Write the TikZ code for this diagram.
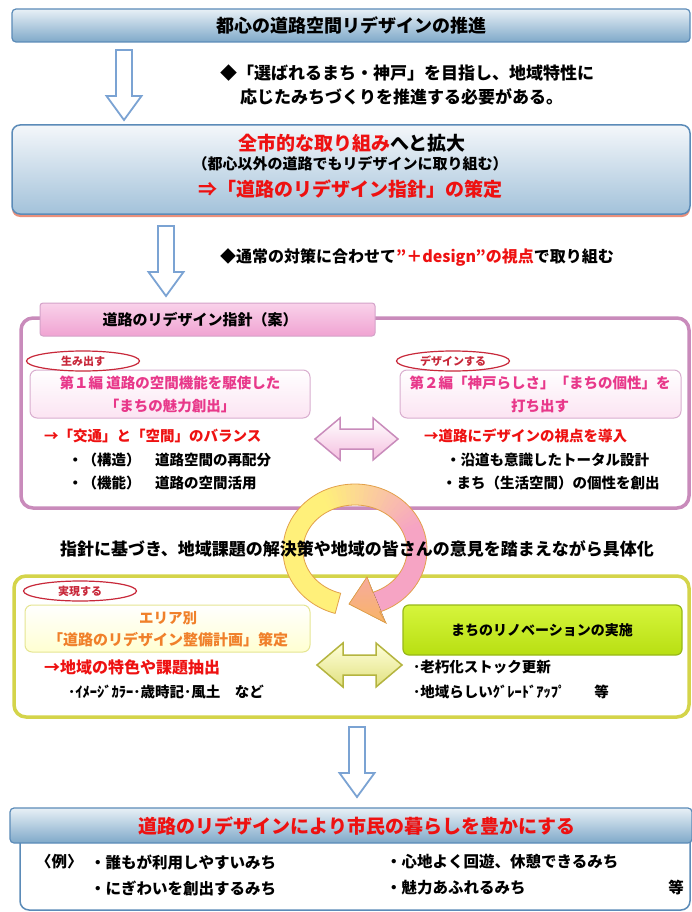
\documentclass[tikz,border=0pt]{standalone}
\usepackage{fontspec}
\setmainfont{Noto Sans CJK JP}
\usetikzlibrary{calc,shapes.geometric}
\definecolor{titleTop}{HTML}{E8F0F6}
\definecolor{titleBot}{HTML}{7FA9C9}
\definecolor{titleEdge}{HTML}{5B8BB8}
\definecolor{boxTop}{HTML}{F4F7FA}
\definecolor{boxBot}{HTML}{A3C2DA}
\definecolor{arrowBlue}{HTML}{7BA3D3}
\definecolor{pinkFrame}{HTML}{C98BBB}
\definecolor{pinkHeadTop}{HTML}{F9D2EA}
\definecolor{pinkHeadBot}{HTML}{F0A3D2}
\definecolor{ellRed}{HTML}{C8283A}
\definecolor{magTxt}{HTML}{E8388A}
\definecolor{redTxt}{HTML}{EE1111}
\definecolor{yelFrame}{HTML}{D4D44A}
\definecolor{orangeTxt}{HTML}{F0802A}
\definecolor{limeTop}{HTML}{D6F53C}
\definecolor{limeBot}{HTML}{B8DF12}
\definecolor{limeEdge}{HTML}{98B818}
\definecolor{ringY}{HTML}{FFF07A}
\definecolor{ringP}{HTML}{F6A4C4}
\definecolor{ringO}{HTML}{F8B466}
\definecolor{ringEdge}{HTML}{E2A04A}
\tikzset{
  fs/.style={font=\fontsize{#1}{#1}\selectfont\bfseries, inner sep=0pt},
  hollowdown/.pic={
    \draw[arrowBlue, line width=1.8pt, fill=white, line join=miter]
      (-8,0) -- (-8,46) -- (-17.5,46) -- (0,70) -- (17.5,46) -- (8,46) -- (8,0) -- cycle;
  },
  tagbox/.style={ellipse, draw=ellRed, line width=1.2pt, fill=white,
    minimum width=113pt, minimum height=20pt, inner sep=0pt, text=ellRed,
    font=\fontsize{11}{11}\selectfont\bfseries},
  bluebar/.style={top color=titleTop, bottom color=titleBot, draw=titleEdge,
    line width=1.2pt, rounded corners=4pt},
}
\begin{document}
\begin{tikzpicture}[x=1pt,y=-1pt]
\useasboundingbox (0,0) rectangle (692,912);
\fill[white] (0,0) rectangle (692,912);

% ---------- title bar ----------
\path[bluebar] (12,9) rectangle (690,42);
\node[fs=18] (title) at (351,25.5) {都心の道路空間リデザインの推進};

\pic at (124,50) {hollowdown};
\node[fs=17, anchor=west] (aim1) at (220,73) {◆「選ばれるまち・神戸」を目指し、地域特性に};
\node[fs=17, anchor=west] (aim2) at (240,97) {応じたみちづくりを推進する必要がある。};

% ---------- box 2 ----------
\fill[red!45!brown!60, rounded corners=8pt] (12,128) rectangle (690,217);
\path[top color=boxTop, bottom color=boxBot, draw=titleEdge, line width=1.5pt, rounded corners=8pt] (12,125) rectangle (690,214);
\node[fs=19] (exp1) at (352,143) {\textcolor{redTxt}{全市的な取り組み}へと拡大};
\node[fs=15] (exp2) at (350,164) {（都心以外の道路でもリデザインに取り組む）};
\node[fs=19, text=redTxt] (exp3) at (350,189) {⇒「道路のリデザイン指針」の策定};

\pic at (166,226) {hollowdown};
\node[fs=16, anchor=west] (design) at (220,257) {◆通常の対策に合わせて\textcolor{redTxt}{”＋design”の視点}で取り組む};

% ---------- pink section ----------
\draw[pinkFrame, line width=3.5pt, rounded corners=12pt] (21,318) rectangle (689,508);
\path[top color=pinkHeadTop, bottom color=pinkHeadBot, draw=pinkFrame!80, line width=1pt, rounded corners=3pt] (40,303) rectangle (375,336);
\node[fs=15] (guide) at (200,320) {道路のリデザイン指針（案）};

\path[top color=white, bottom color=pinkHeadTop!60, draw=pinkFrame!70, line width=1pt, rounded corners=7pt] (30,370) rectangle (310,418);
\node[tagbox] (tag1) at (83,361) {生み出す};
\node[fs=14.5, text=magTxt] (p1a) at (170,383) {第１編 道路の空間機能を駆使した};
\node[fs=14.5, text=magTxt] (p1b) at (170,406) {「まちの魅力創出」};
\node[fs=14.5, text=redTxt, anchor=west] (p1c) at (44,436) {→「交通」と「空間」のバランス};
\node[fs=14.5, anchor=west] (p1d) at (68,460) {・（構造）　道路空間の再配分};
\node[fs=14.5, anchor=west] (p1e) at (68,483) {・（機能）　道路の空間活用};

\path[top color=white, bottom color=pinkHeadTop!60, draw=pinkFrame!70, line width=1pt, rounded corners=7pt] (400,370) rectangle (681,418);
\node[tagbox] (tag2) at (453,361) {デザインする};
\node[fs=14.5, text=magTxt] (p2a) at (540,383) {第２編「神戸らしさ」「まちの個性」を};
\node[fs=14.5, text=magTxt] (p2b) at (540,406) {打ち出す};
\node[fs=14.5, text=redTxt, anchor=west] (p2c) at (424,436) {→道路にデザインの視点を導入};
\node[fs=14.5, anchor=west] (p2d) at (446,460) {・沿道も意識したトータル設計};
\node[fs=14.5, anchor=west] (p2e) at (442,483) {・まち（生活空間）の個性を創出};

% pink double arrow
\path[top color=white, bottom color=pinkHeadBot!70, draw=pinkFrame, line width=1.5pt, line join=miter]
  (315,439) -- (340,418) -- (340,429) -- (373,429) -- (373,418) -- (398,439)
  -- (373,460) -- (373,449) -- (340,449) -- (340,460) -- cycle;

% ---------- yellow section ----------
\draw[yelFrame, line width=3.5pt, rounded corners=12pt] (14,576) rectangle (689,717);
\path[top color=white, bottom color=yellow!18, draw=yelFrame!60, line width=1pt, rounded corners=7pt] (25,605) rectangle (310,652);
\node[tagbox] (tag3) at (80,591) {実現する};
\node[fs=14.5, text=orangeTxt] (p3a) at (168,618) {エリア別};
\node[fs=15, text=orangeTxt] (p3b) at (168,640) {「道路のリデザイン整備計画」策定};
\node[fs=16, text=redTxt, anchor=west] (p3c) at (44,667) {→地域の特色や課題抽出};
\node[fs=14.5, anchor=west] (p3d) at (68,692) {･ｲﾒｰｼﾞｶﾗｰ･歳時記･風土　など};

\path[top color=limeTop, bottom color=limeBot, draw=limeEdge, line width=1.2pt, rounded corners=6pt] (403,605) rectangle (682,655);
\node[fs=14] (renov) at (542,630) {まちのリノベーションの実施};
\node[fs=14.5, anchor=west] (p4a) at (413,667) {･老朽化ストック更新};
\node[fs=14.5, anchor=west] (p4b) at (413,692) {･地域らしいｸﾞﾚｰﾄﾞｱｯﾌﾟ　　等};

% yellow double arrow
\path[top color=yellow!15, bottom color=yelFrame!70, draw=yelFrame!85!black, line width=1.5pt, line join=miter]
  (317,665) -- (343,643) -- (343,655) -- (376,655) -- (376,643) -- (402,665)
  -- (376,687) -- (376,675) -- (343,675) -- (343,687) -- cycle;

% ---------- cycle ring ----------
\foreach \a in {106,110,...,426} {
  \pgfmathtruncatemacro\p{max(0,min(100,(335-\a)/95*100))}
  \fill[ringY!\p!ringP]
    ({355+72*cos(\a)},{550+66*sin(\a)}) -- ({355+72*cos(\a+4.6)},{550+66*sin(\a+4.6)})
    -- ({355+52*cos(\a+4.6)},{550+45*sin(\a+4.6)}) -- ({355+52*cos(\a)},{550+45*sin(\a)}) -- cycle;
}
\fill[top color=ringP!60!ringO, bottom color=ringO] (386,623) -- (349,604) -- (367,577) -- cycle;
\draw[ringEdge, line width=0.8pt, line join=miter]
  plot[domain=106:430, samples=90] ({355+72*cos(\x)},{550+66*sin(\x)})
  -- (386,623) -- (349,604) -- (367,577)
  -- plot[domain=430:106, samples=90] ({355+52*cos(\x)},{550+45*sin(\x)}) -- cycle;

\node[fs=17] (mid) at (357,549) {指針に基づき、地域課題の解決策や地域の皆さんの意見を踏まえながら具体化};

% ---------- bottom ----------
\pic at (357,727) {hollowdown};
\draw[titleEdge, line width=1.5pt, fill=white, rounded corners=9pt] (20,830) rectangle (690,910);
\path[bluebar] (10,808) rectangle (692,843);
\node[fs=19, text=redTxt] (goal) at (357,826) {道路のリデザインにより市民の暮らしを豊かにする};
\node[fs=15.5, anchor=west] (ex0) at (36,862) {〈例〉};
\node[fs=15.5, anchor=west] (ex1) at (90,862) {・誰もが利用しやすいみち};
\node[fs=15.5, anchor=west] (ex2) at (386,862) {・心地よく回遊、休憩できるみち};
\node[fs=15.5, anchor=west] (ex3) at (90,888) {・にぎわいを創出するみち};
\node[fs=15.5, anchor=west] (ex4) at (386,888) {・魅力あふれるみち};
\node[fs=15.5] (ex5) at (676,888) {等};
\end{tikzpicture}
\end{document}
